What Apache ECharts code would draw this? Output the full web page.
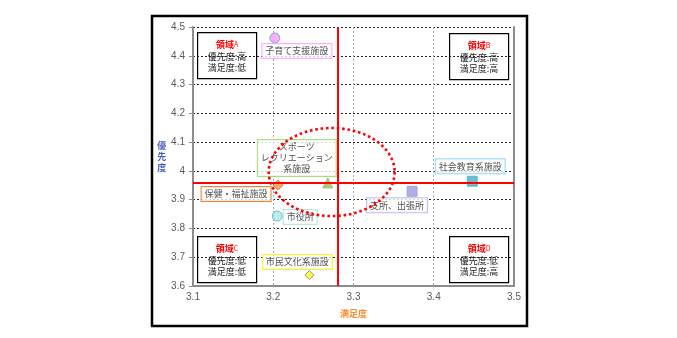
<!DOCTYPE html>
<html><head><meta charset="utf-8">
<script src="https://cdn.jsdelivr.net/npm/echarts@6/dist/echarts.min.js"></script>
<style>html,body{margin:0;padding:0;background:#fff;}#c{width:677px;height:338px;}</style>
</head><body><div id="c"></div>
<script>
// ---- data ----
const facilityNames = ['子育て支援施設','スポーツ\nレクリエーション\n系施設','保健・福祉施設','市役所','市民文化系施設','支所、出張所','社会教育系施設'];
const satisfaction = [3.202, 3.268, 3.206, 3.205, 3.245, 3.373, 3.448];
const priority     = [4.462, 3.958, 3.951, 3.843, 3.638, 3.929, 3.964];
const avgSatisfaction = 3.276;
const avgPriority = 3.955;
const xTicks = {min: 3.1, max: 3.5, step: 0.1};
const yTicks = {min: 3.6, max: 4.5, step: 0.1};
const ellipseCenter = [3.2728, 3.996];
const ellipseRadius = [0.0785, 0.153];
const quadrants = [
  {name:'領域', tag:'A', pri:'高', sat:'低'},
  {name:'領域', tag:'B', pri:'高', sat:'高'},
  {name:'領域', tag:'C', pri:'低', sat:'低'},
  {name:'領域', tag:'D', pri:'低', sat:'高'}
];

// ---- styles (kept separate from data) ----
const markerStyles = [
  {symbol:'circle', size:10, fill:'#f99cf0', stroke:'#4bacc6', labelBorder:'#ff99ff', offset:[22,13]},
  {symbol:'triangle', size:10, fill:'#9bbb59', stroke:'#9bbb59', labelBorder:'#9bd35a', offset:[-31,-25]},
  {symbol:'diamond', size:10, fill:'#f79646', stroke:'#e46c0a', labelBorder:'#e46c0a', offset:[-42,9]},
  {symbol:'circle', size:10, fill:'#b7e6dc', stroke:'#31b5e6', labelBorder:'#a6e0d2', offset:[23,1]},
  {symbol:'diamond', size:9, fill:'#ffff00', stroke:'#6c7cc8', labelBorder:'#f0f000', offset:[-12,-13]},
  {symbol:'rect', size:10, fill:'#9b9bdb', stroke:'#9b9bdb', labelBorder:'#b0b0e8', offset:[-15,14]},
  {symbol:'rect', size:10, fill:'#4bacc6', stroke:'#4bacc6', labelBorder:'#7fd0f4', offset:[-2,-15]}
];
const quadBoxes = [[197,32],[449,33],[197,236],[449,236]];

const chart = echarts.init(document.getElementById('c'), null, {renderer:'canvas'});

const scatterData = facilityNames.map((n, i) => {
  const s = markerStyles[i];
  return {
    name: n,
    value: [satisfaction[i], priority[i]],
    symbol: s.symbol,
    symbolSize: s.size,
    itemStyle: {color: s.fill, borderColor: s.stroke, borderWidth: 1},
    label: {
      show: true, position: 'inside', offset: s.offset,
      formatter: n,
      color: '#222', fontSize: 9, lineHeight: 11,
      fontFamily: 'Noto Sans CJK JP',
      backgroundColor: '#fff', borderColor: s.labelBorder, borderWidth: 1,
      padding: [2, 3, 1, 3], align: 'center', verticalAlign: 'middle'
    }
  };
});

const quadGraphics = quadrants.map((q, i) => ({
  type: 'group', left: quadBoxes[i][0], top: quadBoxes[i][1],
  children: [
    {type:'rect', shape:{x:0,y:0,width:59,height:46}, style:{fill:'#fff', stroke:'#000', lineWidth:1.2}},
    {type:'text', x:29.5, y:6, style:{
      text: '{r|' + q.name + '}{t|' + q.tag + '}\n{n|優先度:' + q.pri + '}\n{n|満足度:' + q.sat + '}',
      align:'center', verticalAlign:'top', fontFamily:'Noto Sans CJK JP',
      rich: {
        r:{fill:'#ff0000', fontWeight:'bold', fontSize:9, lineHeight:12, fontFamily:'Noto Sans CJK JP'},
        t:{fill:'#ff0000', fontSize:7, lineHeight:12, fontFamily:'Noto Sans CJK JP'},
        n:{fill:'#222', fontSize:9, lineHeight:11.5, fontFamily:'Noto Sans CJK JP'}
      }
    }}
  ]
}));

const option = {
  animation: false,
  backgroundColor: '#fff',
  textStyle: {fontFamily: 'Noto Sans CJK JP'},
  grid: {left: 193, right: 163, top: 27, bottom: 52},
  xAxis: {
    type: 'value', min: xTicks.min, max: xTicks.max, interval: xTicks.step,
    name: '満足度', nameLocation: 'middle', nameGap: 23,
    nameTextStyle: {color:'#ff8c28', fontWeight:'bold', fontSize:9, fontFamily:'Noto Sans CJK JP'},
    axisLine: {lineStyle: {color:'#8c8c8c', width:2}},
    axisTick: {show:false},
    axisLabel: {color:'#595959', fontSize:10, margin:6, fontFamily:'Liberation Sans'},
    splitLine: {show:true, lineStyle:{color:'#a8a8a8', width:1, type:[2,2]}}
  },
  yAxis: [{
    type: 'value', min: yTicks.min, max: yTicks.max, interval: yTicks.step,
    name: '優\n先\n度', nameLocation: 'middle', nameGap: 24, nameRotate: 0,
    nameTextStyle: {color:'#3f5fc0', fontWeight:'bold', fontSize:9, lineHeight:11, fontFamily:'Noto Sans CJK JP', padding:[0,0,20,0]},
    axisLine: {show:true, lineStyle: {color:'#8c8c8c', width:2}},
    axisTick: {show:true, length:4, lineStyle:{color:'#8c8c8c'}},
    axisLabel: {color:'#595959', fontSize:10, margin:8, fontFamily:'Liberation Sans'},
    splitLine: {show:true, lineStyle:{color:'#222', width:1, type:[2,2]}}
  }, {
    type: 'value', position: 'right', min: yTicks.min, max: yTicks.max, interval: yTicks.step,
    axisLine: {show:true, lineStyle: {color:'#8c8c8c', width:2}},
    axisTick: {show:false}, axisLabel: {show:false}, splitLine: {show:false}
  }],
  series: [
    {
      type: 'scatter', z: 2, data: scatterData
    },
    {
      type: 'line', z: 4, data: [], symbol: 'none',
      markLine: {
        silent: true, symbol: 'none', label: {show:false},
        lineStyle: {color:'#ff0000', width:2, type:'solid'},
        data: [{xAxis: avgSatisfaction}, {yAxis: avgPriority}]
      }
    },
    {
      type: 'custom', z: 5, silent: true,
      data: [[ellipseCenter[0], ellipseCenter[1]]],
      renderItem: function (params, api) {
        const c = api.coord([api.value(0), api.value(1)]);
        const sz = api.size([ellipseRadius[0], ellipseRadius[1]]);
        const pts = [];
        for (let k = 0; k <= 120; k++) {
          const a = k / 120 * Math.PI * 2;
          pts.push([c[0] + sz[0] * Math.cos(a), c[1] + sz[1] * Math.sin(a)]);
        }
        return {type:'polyline', shape:{points: pts},
          style:{stroke:'#ff0000', fill:'none', lineWidth:2.6, lineDash:[2.6,2.8]}};
      }
    }
  ],
  graphic: [
    {type:'rect', shape:{x:152,y:16,width:375,height:310}, style:{fill:'none', stroke:'#000', lineWidth:2.5}, z:-1}
  ].concat(quadGraphics)
};
chart.setOption(option);
</script></body></html>
